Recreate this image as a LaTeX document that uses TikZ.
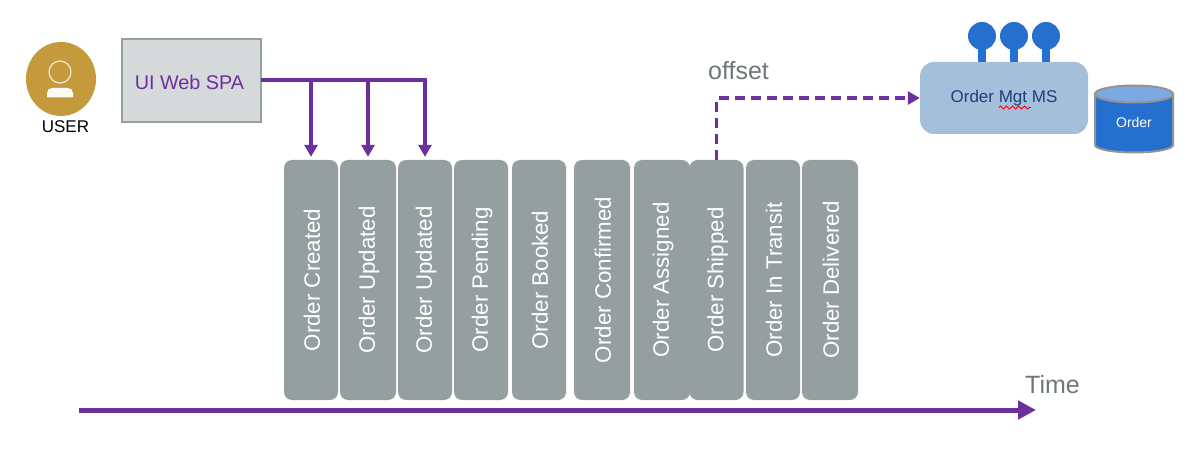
\documentclass[tikz,border=0pt]{standalone}
\usepackage{fontspec}
\setmainfont{Liberation Sans}
\usetikzlibrary{arrows.meta,calc,shapes.geometric,decorations.pathmorphing}
\definecolor{flowpurple}{HTML}{6C309E}
\definecolor{eventgray}{HTML}{969F9F}
\definecolor{uifill}{HTML}{D5D9DA}
\definecolor{notegray}{HTML}{6B7778}
\definecolor{goldfill}{HTML}{C49A3C}
\definecolor{msfill}{HTML}{A3BFD9}
\definecolor{msblue}{HTML}{2570CE}
\definecolor{mstext}{HTML}{1F3F7A}
\tikzset{
  eventbox/.style={fill=eventgray,rounded corners=8,minimum height=240,inner sep=0,text=white,
    font=\fontsize{22.3}{24}\selectfont},
  flow/.style={draw=flowpurple,line width=3.5,-{Triangle[length=12,width=13]}},
  note/.style={text=notegray,inner sep=0,font=\fontsize{25}{28}\selectfont}
}
\newcommand{\lollipop}[1]{%
  % x of the stem and its ball.
  \draw[msblue,line width=8] (#1,48) -- (#1,62);
  \fill[msblue] (#1,36) circle (14);
}
\begin{document}
\begin{tikzpicture}[x=1pt,y=-1pt]
  \useasboundingbox (0,0) rectangle (1204,454);
  % user
  \node[ellipse,fill=goldfill,minimum width=70,minimum height=74,inner sep=0] (user) at (61,79) {};
  \draw[draw=white!80!goldfill,line width=1.2] (60,72) circle (11);
  \fill[white!95!goldfill] (47,97.5) -- (47,93) to[out=90,in=180] (52,88) -- (68,88) to[out=0,in=90] (73,93) -- (73,97.5) -- cycle;
  \node[inner sep=0,font=\fontsize{17}{20}\selectfont] (userlabel) at (65.5,127) {USER};
  % web app
  \node[draw=eventgray,line width=2,fill=uifill,minimum width=139,minimum height=83,inner sep=0] (ui) at (191,81) {};
  \node[text=flowpurple,inner sep=0,font=\fontsize{19.8}{22}\selectfont] (uilabel) at (189.5,82) {UI Web SPA};
  % events
  \foreach \name/\cx/\boxw [count=\i from 1] in {
    Order Created/311/54,Order Updated/368/56,Order Updated/425/54,Order Pending/481/54,
    Order Booked/539/54,Order Confirmed/602/56,Order Assigned/662/56,Order Shipped/716.5/54,
    Order In Transit/773/54,Order Delivered/830/56}{%
    \node[eventbox,minimum width={\boxw*1pt}] (e\i) at (\cx,280) {\hspace{2pt}\rotatebox[origin=c]{90}{\name}};
  }
  % producer
  \coordinate (uiout) at (261,80);
  \draw[flow,shorten >=3] (uiout) -- (uiout -| e3) -- (e3.north);
  \foreach \i in {1,2}{%
    \draw[flow,shorten >=3] (uiout -| e\i) -- (e\i.north);
  }
  % consumer
  \node[fill=msfill,rounded corners=14,minimum width=168,minimum height=72,inner sep=0,text=mstext,
    font=\fontsize{17}{20}\selectfont] (ms) at (1004,98) {Order Mgt MS};
  \draw[red,line width=0.9,decorate,decoration={zigzag,amplitude=1.5,segment length=6}] (999,107.5) -- (1031,107.5);
  \foreach \x in {982,1014,1046}{\lollipop{\x}}
  \draw[flow,dash pattern=on 10 off 6] (e8.north) -- (e8.north |- ms) -- (ms.west);
  \node[note,anchor=west] (offset) at (708,71) {offset};
  % database
  \draw[draw=black!42,line width=2,fill=msblue] (1095,94) -- (1095,145) arc[start angle=180,end angle=0,x radius=39,y radius=7.5] -- (1173,94) -- cycle;
  \draw[draw=black!42,line width=2,fill=msblue!60!white] (1134,94) ellipse[x radius=39,y radius=8.5];
  \node[inner sep=0,text=white,font=\fontsize{14}{16}\selectfont] (db) at (1134,122) {Order};
  % time axis
  \coordinate (timestart) at (79,410);
  \coordinate (timeend) at (1036,410);
  \draw[draw=flowpurple,line width=5,-{Triangle[length=18,width=18]}] (timestart) -- (timeend);
  \node[note,anchor=west] (timelabel) at (1025,385) {Time};
\end{tikzpicture}
\end{document}
